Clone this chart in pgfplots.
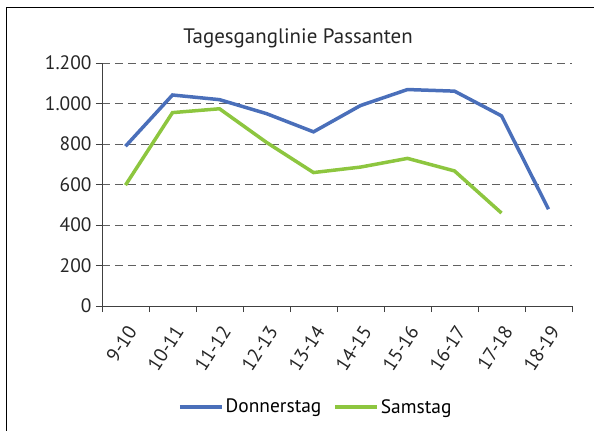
\documentclass[border=0pt]{standalone}
\usepackage{pgfplots}
\pgfplotsset{compat=1.18}
\usepackage{fontspec}
\setmainfont{PT Sans}
\definecolor{donblue}{HTML}{4A6FBA}
\definecolor{samgreen}{HTML}{8DC63F}
\definecolor{axgray}{HTML}{404040}
\definecolor{gridgray}{HTML}{606060}
\begin{document}
\begin{tikzpicture}[x=1bp,y=1bp]
\useasboundingbox (-102,-124) rectangle (492,306);
\draw[line width=1bp, black] (-95,-130) -- (-95,299) -- (500,299);
\begin{axis}[
  at={(0,0)}, anchor=south west,
  scale only axis, width=470bp, height=243bp,
  xmin=-0.5, xmax=9.5, ymin=0, ymax=1200,
  axis x line*=bottom, axis y line*=left,
  axis line style={axgray, line width=0.9bp, -},
  xtick={0,...,9},
  xticklabels={9-10,10-11,11-12,12-13,13-14,14-15,15-16,16-17,17-18,18-19},
  major x tick style={draw=none},
  minor xtick={-0.5,0.5,...,9.5},
  minor x tick style={axgray, line width=0.9bp},
  minor tick length=6bp,
  ytick={0,200,...,1200},
  major tick length=6bp,
  y tick style={axgray, line width=0.9bp},
  tick align=outside,
  ymajorgrids,
  grid style={gridgray, dashed, dash pattern=on 8bp off 5bp, line width=0.8bp},
  /pgf/number format/.cd, 1000 sep={.}, assume math mode=true,
  /pgfplots/.cd,
  yticklabel style={font=\fontsize{19.5}{21}\selectfont, color=black!85, xshift=-1bp},
  xticklabel style={font=\fontsize{19.5}{21}\selectfont, color=black!85, rotate=57, anchor=east, yshift=-14bp, xshift=-6bp},
  legend style={at={(0.455,-0.415)}, anchor=center, draw=none, fill=none,
    legend columns=2, font=\fontsize{19.5}{21}\selectfont,
    /tikz/every even column/.append style={column sep=10bp}},
  legend image code/.code={\draw[#1, line width=3.5bp] (0bp,0bp) -- (42bp,0bp);},
  clip=false,
]
\addplot[donblue, line width=3.5bp] coordinates {
(0,789) (1,1042) (2,1019) (3,950) (4,860) (5,990) (6,1069) (7,1061) (8,939) (9,478)};
\addlegendentry{Donnerstag}
\addplot[samgreen, line width=3.5bp] coordinates {
(0,597) (1,955) (2,974) (3,808) (4,659) (5,686) (6,729) (7,667) (8,459)};
\addlegendentry{Samstag}
\end{axis}
\node[font=\fontsize{21}{23}\selectfont, color=black!85] at (196,268) {Tagesganglinie Passanten};
\end{tikzpicture}
\end{document}
